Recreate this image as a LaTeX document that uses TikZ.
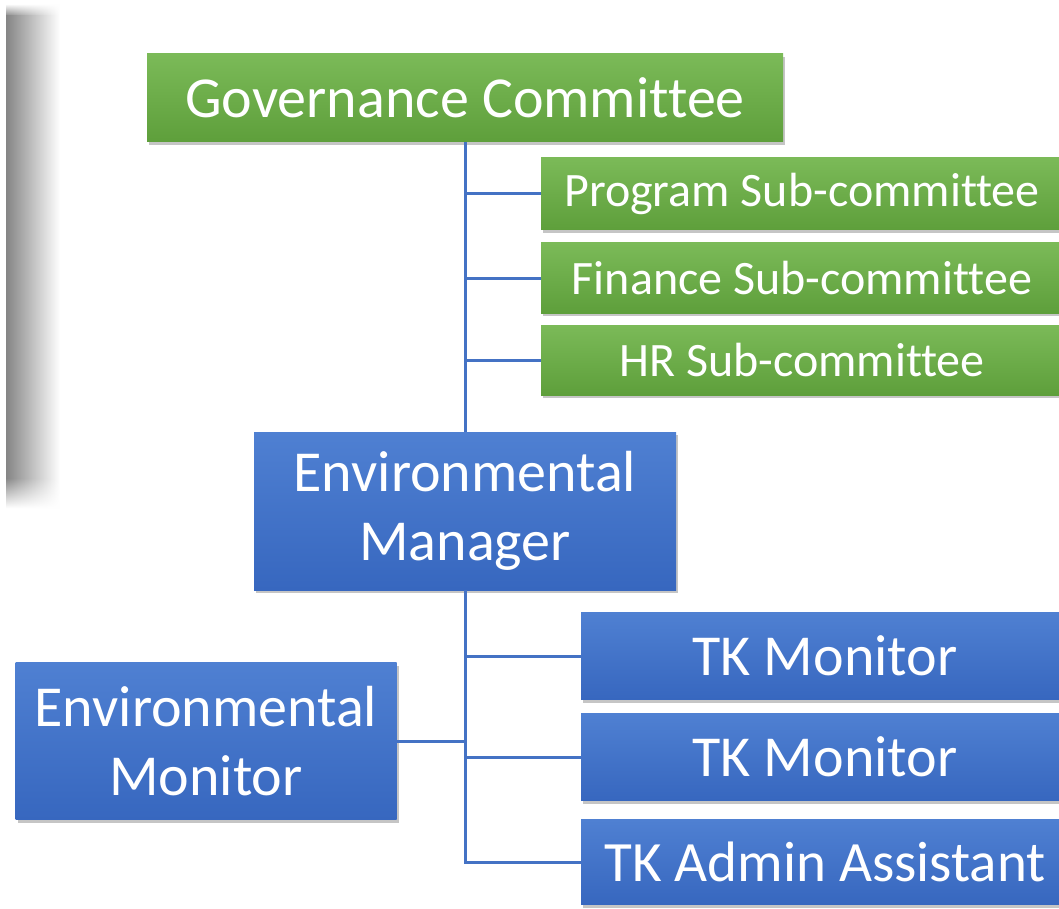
\documentclass[tikz,border=0pt]{standalone}
\usepackage{fontspec}
\setmainfont{Carlito}[Ligatures=NoCommon]
\usetikzlibrary{positioning,shadows,fadings}

\definecolor{grtop}{HTML}{7BBA58}
\definecolor{grbot}{HTML}{5E9F3B}
\definecolor{bltop}{HTML}{4F80D2}
\definecolor{blbot}{HTML}{3767BF}
\definecolor{linkblue}{HTML}{4472C4}

\tikzfading[name=fadedown, top color=transparent!0, bottom color=transparent!100]
\tikzfading[name=fadeup, top color=transparent!100, bottom color=transparent!0]

\tikzset{
	box/.style={rectangle, text=white, inner sep=0pt, align=center,
		drop shadow={opacity=0.45, shadow xshift=2pt, shadow yshift=-3pt}},
	gbox/.style={box, top color=grtop, bottom color=grbot},
	bbox/.style={box, top color=bltop, bottom color=blbot},
	band/.style={left color=black!48, right color=white},
	link/.style={draw=linkblue, line width=3pt},
}

\begin{document}
\begin{tikzpicture}[x=1pt, y=-1pt]
	\clip (0,0) rectangle (1059,909);
	\fill[white] (0,0) rectangle (1059,909);

	% soft shadow band on the left
	\shade[band, path fading=fadeup]   (6,4)   rectangle (60,16);
	\shade[band]                       (6,16)  rectangle (60,478);
	\shade[band, path fading=fadedown] (6,478) rectangle (60,508);

	% committees
	\node[gbox, minimum width=636, minimum height=88, font=\fontsize{58}{60}\selectfont]
		(gov)  at (465,98)   {Governance Committee};
	\node[gbox, minimum width=522, minimum height=72, font=\fontsize{48}{50}\selectfont]
		(prog) at (802,194)  {Program Sub-committee};
	\node[gbox, minimum width=522, minimum height=70, font=\fontsize{48}{50}\selectfont]
		(fin)  at (802,278)  {Finance Sub-committee};
	\node[gbox, minimum width=522, minimum height=70, font=\fontsize{48}{50}\selectfont]
		(hr)   at (802,360)  {HR Sub-committee};

	% staff
	\node[bbox, minimum width=422, minimum height=158, font=\fontsize{58}{69}\selectfont]
		(mgr)  at (465,511)  {Environmental\\Manager};
	\node[bbox, minimum width=381, minimum height=157, font=\fontsize{58}{69}\selectfont]
		(mon)  at (206,741)  {Environmental\\Monitor};
	\node[bbox, minimum width=488, minimum height=87, font=\fontsize{58}{60}\selectfont]
		(tka)  at (825,656)  {TK Monitor};
	\node[bbox, minimum width=488, minimum height=87, font=\fontsize{58}{60}\selectfont]
		(tkb)  at (825,757)  {TK Monitor};
	\node[bbox, minimum width=488, minimum height=85, font=\fontsize{57}{60}\selectfont]
		(adm)  at (825,862)  {TK Admin Assistant};

	% connectors
	\draw[link] (gov.south) -- (mgr.north);
	\draw[link] (prog.west -| gov.south) -- (prog.west);
	\draw[link] (fin.west -| gov.south) -- (fin.west);
	\draw[link] (hr.west -| gov.south) -- (hr.west);

	\draw[link] (mgr.south) -- (adm.west -| mgr.south) -- (adm.west);
	\draw[link] (tka.west -| mgr.south) -- (tka.west);
	\draw[link] (tkb.west -| mgr.south) -- (tkb.west);
	\draw[link] (mon.east) -- (mon.east -| mgr.south);
\end{tikzpicture}
\end{document}
